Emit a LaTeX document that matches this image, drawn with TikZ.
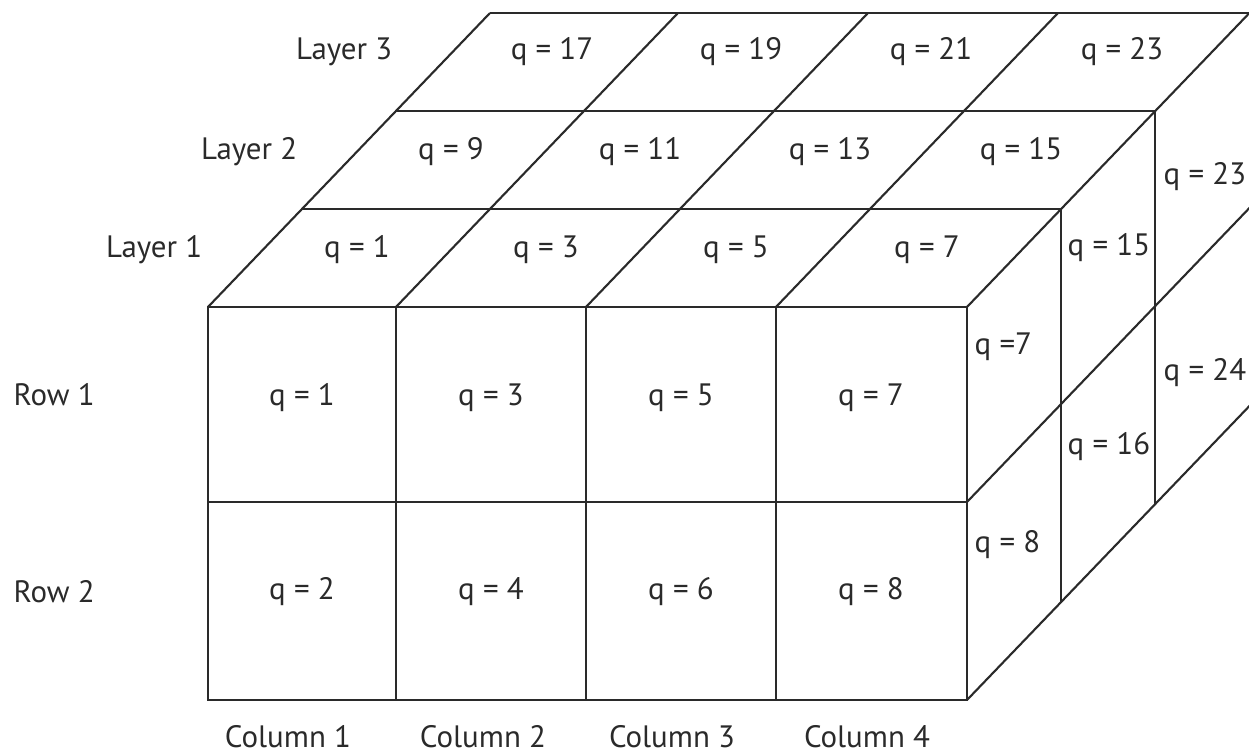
\documentclass[tikz,border=0pt]{standalone}
\usepackage{fontspec}
\setmainfont{PT Sans}
\definecolor{inkgray}{HTML}{2A2A2A}

\begin{document}
\begin{tikzpicture}[
  edge/.style={line width=0.6pt,inkgray},
  q/.style={font=\fontsize{8.8}{10.5}\selectfont,text=inkgray,inner sep=0pt},
  side/.style={q,anchor=west},
  tag/.style={q}]
\useasboundingbox (0,0) rectangle (12.49,7.54);
\clip (0,0) rectangle (12.49,7.54);
\draw[edge] (2.08,0.54) rectangle (9.67,4.47);
\draw[edge] (2.08,2.52)--(9.67,2.52);
\draw[edge] (3.96,0.54)--(3.96,4.47); \draw[edge] (5.86,0.54)--(5.86,4.47); \draw[edge] (7.76,0.54)--(7.76,4.47);
\draw[edge] (3.02,5.45)--(10.61,5.45); \draw[edge] (3.96,6.43)--(11.55,6.43); \draw[edge] (4.90,7.41)--(12.60,7.41);
\draw[edge] (2.08,4.47)--(4.90,7.41); \draw[edge] (3.96,4.47)--(6.78,7.41); \draw[edge] (5.86,4.47)--(8.68,7.41);
\draw[edge] (7.76,4.47)--(10.58,7.41); \draw[edge] (9.67,4.47)--(12.60,7.52);
\draw[edge] (10.61,1.52)--(10.61,5.45); \draw[edge] (11.55,2.50)--(11.55,6.43);
\draw[edge] (9.67,2.52)--(12.60,5.57); \draw[edge] (9.67,0.54)--(12.60,3.59);
\node[q] (f11) at (3.02,3.56) {q = 1};
\node[q] (f12) at (4.91,3.56) {q = 3};
\node[q] (f13) at (6.81,3.56) {q = 5};
\node[q] (f14) at (8.71,3.56) {q = 7};
\node[q] (f21) at (3.02,1.62) {q = 2};
\node[q] (f22) at (4.91,1.62) {q = 4};
\node[q] (f23) at (6.81,1.62) {q = 6};
\node[q] (f24) at (8.71,1.62) {q = 8};
\node[q] (t11) at (3.57,5.04) {q = 1};
\node[q] (t12) at (5.46,5.04) {q = 3};
\node[q] (t13) at (7.36,5.04) {q = 5};
\node[q] (t14) at (9.27,5.04) {q = 7};
\node[q] (t21) at (4.51,6.02) {q = 9};
\node[q] (t22) at (6.40,6.02) {q = 11};
\node[q] (t23) at (8.30,6.02) {q = 13};
\node[q] (t24) at (10.21,6.02) {q = 15};
\node[q] (t31) at (5.52,7.02) {q = 17};
\node[q] (t32) at (7.41,7.02) {q = 19};
\node[q] (t33) at (9.31,7.02) {q = 21};
\node[q] (t34) at (11.22,7.02) {q = 23};
\node[side] (s11) at (9.74,4.07) {q =7};
\node[side] (s12) at (9.74,2.09) {q = 8};
\node[side] (s21) at (10.67,5.06) {q = 15};
\node[side] (s22) at (10.67,3.07) {q = 16};
\node[side] (s31) at (11.63,5.77) {q = 23};
\node[side] (s32) at (11.63,3.81) {q = 24};
\node[tag,anchor=east] (layer3) at (3.93,7.02) {Layer 3};
\node[tag,anchor=east] (layer2) at (2.98,6.02) {Layer 2};
\node[tag,anchor=east] (layer1) at (2.03,5.04) {Layer 1};
\node[tag,anchor=west] (row1) at (0.13,3.59) {Row 1};
\node[tag,anchor=west] (row2) at (0.13,1.62) {Row 2};
\node[tag] (col1) at (2.88,0.17) {Column 1};
\node[tag] (col2) at (4.83,0.17) {Column 2};
\node[tag] (col3) at (6.72,0.17) {Column 3};
\node[tag] (col4) at (8.67,0.17) {Column 4};
\end{tikzpicture}
\end{document}
